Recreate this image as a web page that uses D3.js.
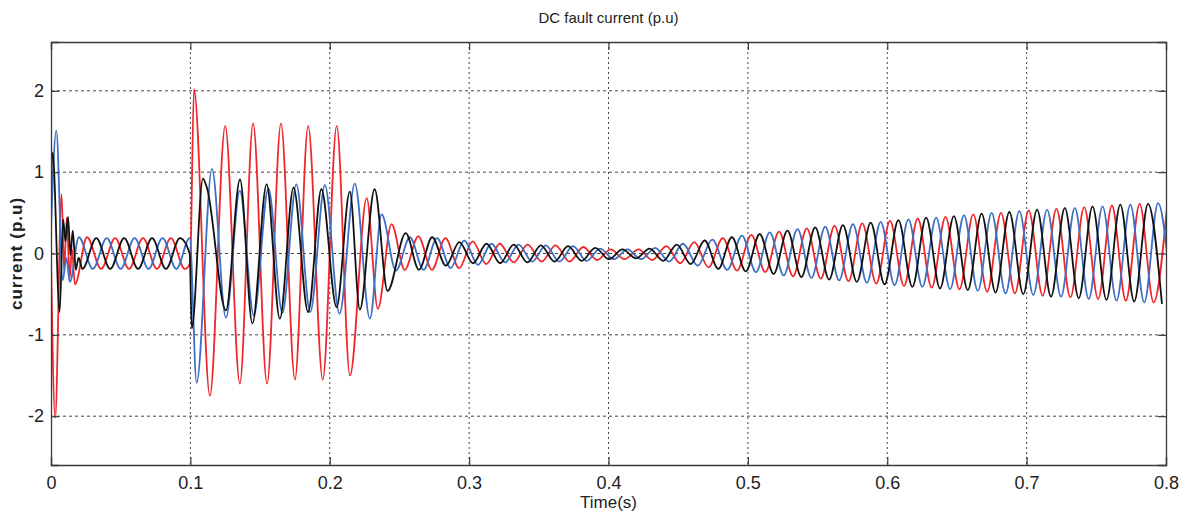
<!DOCTYPE html>
<html>
<head>
<meta charset="utf-8">
<script src="https://d3js.org/d3.v7.min.js"></script>
<style>
  html, body { margin: 0; padding: 0; background: #fff; }
  svg { display: block; }
</style>
</head>
<body>
<div id="chart"></div>
<script>
// Phase currents (p.u) as [time (s), value] at each turning point
const redPhase = [
  [0, -0.05], [0.003, -2.02], [0.0076, 0.73], [0.0094, -0.21], [0.0113, 0.44], [0.0134, -0.3],
  [0.015, 0.05], [0.0172, -0.38], [0.0258, 0.2],
  [0.036, -0.19], [0.046, 0.19], [0.056, -0.19], [0.066, 0.19], [0.076, -0.19], [0.086, 0.19],
  [0.096, -0.19], [0.0998, -0.12],
  [0.1026, 2.02], [0.114, -1.75], [0.125, 1.57], [0.1355, -1.6], [0.145, 1.6], [0.155, -1.6],
  [0.165, 1.6], [0.175, -1.55], [0.1845, 1.57], [0.195, -1.55], [0.205, 1.57], [0.2145, -1.5],
  [0.2265, 0.68], [0.2345, -0.68], [0.2443, 0.36],
  [0.2538, -0.2], [0.2635, 0.21], [0.2733, -0.2], [0.283, 0.19], [0.2928, -0.18], [0.3025, 0.15],
  [0.3123, -0.13], [0.322, 0.12], [0.332, -0.11], [0.342, 0.11], [0.352, -0.1], [0.362, 0.1],
  [0.372, -0.1], [0.382, 0.08], [0.3918, -0.08], [0.4015, 0.05], [0.4115, -0.07], [0.4215, 0.05],
  [0.4315, -0.08], [0.4415, 0.09], [0.4515, -0.12], [0.4615, 0.14], [0.4718, -0.17], [0.482, 0.19],
  [0.4922, -0.21],
  [0.5025, 0.23], [0.5125, -0.23], [0.5224, 0.27], [0.5324, -0.28], [0.5423, 0.31], [0.5523, -0.31],
  [0.5622, 0.34], [0.5722, -0.34], [0.5821, 0.37], [0.5921, -0.37], [0.602, 0.4], [0.612, -0.4],
  [0.6219, 0.43], [0.6319, -0.42], [0.6418, 0.45], [0.6518, -0.44], [0.6617, 0.48], [0.6717, -0.47],
  [0.6816, 0.5], [0.6916, -0.49], [0.7015, 0.53], [0.7115, -0.52], [0.7214, 0.55], [0.7314, -0.54],
  [0.7413, 0.57], [0.7513, -0.56], [0.7612, 0.59], [0.7712, -0.58], [0.7811, 0.61], [0.7911, -0.6],
  [0.801, 0.62]
];

const bluePhase = [
  [0, 0.3], [0.0038, 1.51], [0.0085, -0.33], [0.011, -0.05], [0.0135, -0.35], [0.02, 0.2],
  [0.03, -0.19], [0.04, 0.19], [0.05, -0.19], [0.06, 0.19], [0.07, -0.19], [0.08, 0.19],
  [0.09, -0.19], [0.0995, 0.19],
  [0.1045, -1.59], [0.1155, 1.04], [0.1255, -0.79], [0.1355, 0.77], [0.1455, -0.76], [0.156, 0.8],
  [0.166, -0.73], [0.176, 0.85], [0.186, -0.72], [0.1965, 0.84], [0.207, -0.74], [0.218, 0.86],
  [0.2288, -0.8], [0.2372, 0.48],
  [0.2475, -0.21], [0.2575, 0.2], [0.2673, -0.2], [0.277, 0.19], [0.2868, -0.18], [0.2965, 0.16],
  [0.3063, -0.14], [0.316, 0.12], [0.3258, -0.11], [0.3355, 0.11], [0.3453, -0.1], [0.355, 0.1],
  [0.3648, -0.1], [0.3745, 0.09], [0.3843, -0.09], [0.394, 0.06], [0.4038, -0.07], [0.4135, 0.05],
  [0.4235, -0.07], [0.4335, 0.07], [0.4435, -0.1], [0.4535, 0.12], [0.464, -0.15], [0.4745, 0.17],
  [0.4852, -0.2], [0.4958, 0.22],
  [0.5058, -0.23], [0.5157, 0.26], [0.5257, -0.27], [0.5356, 0.3], [0.5456, -0.3], [0.5555, 0.33],
  [0.5655, -0.33], [0.5754, 0.36], [0.5854, -0.36], [0.5953, 0.39], [0.6053, -0.39], [0.6152, 0.42],
  [0.6252, -0.41], [0.6351, 0.44], [0.6451, -0.44], [0.655, 0.47], [0.665, -0.46], [0.6749, 0.5],
  [0.6849, -0.49], [0.6948, 0.52], [0.7048, -0.51], [0.7147, 0.54], [0.7247, -0.53], [0.7346, 0.56],
  [0.7446, -0.56], [0.7545, 0.58], [0.7645, -0.58], [0.7744, 0.6], [0.7844, -0.6], [0.7943, 0.62],
  [0.8043, -0.62]
];

const blackPhase = [
  [0, 0.9], [0.0012, 1.24], [0.0062, -0.72], [0.0087, 0.42], [0.0104, 0.15], [0.0122, 0.45],
  [0.014, -0.02], [0.0156, 0.28], [0.0178, -0.2], [0.0198, -0.05], [0.0225, -0.19],
  [0.0325, 0.19], [0.0425, -0.19], [0.0525, 0.19], [0.0625, -0.19], [0.0725, 0.19], [0.0825, -0.19],
  [0.0925, 0.19], [0.0995, 0.0],
  [0.101, -0.92], [0.109, 0.92], [0.112, 0.8], [0.1255, -0.7], [0.1356, 0.91], [0.1445, -0.86],
  [0.1547, 0.85], [0.1642, -0.8], [0.174, 0.81], [0.1845, -0.72], [0.194, 0.79], [0.2049, -0.66],
  [0.2144, 0.76], [0.2216, -0.69], [0.2322, 0.79], [0.2415, -0.46],
  [0.2545, 0.25], [0.264, -0.2], [0.2735, 0.2], [0.2833, -0.15], [0.293, 0.14], [0.3028, -0.12],
  [0.3125, 0.12], [0.3223, -0.12], [0.332, 0.11], [0.3418, -0.11], [0.3515, 0.1], [0.3613, -0.1],
  [0.371, 0.09], [0.3808, -0.09], [0.3905, 0.07], [0.4003, -0.07], [0.41, 0.05], [0.4198, -0.06],
  [0.4295, 0.06], [0.4393, -0.09], [0.449, 0.11], [0.459, -0.13], [0.469, 0.16], [0.4788, -0.19],
  [0.4885, 0.2], [0.4985, -0.22],
  [0.5085, 0.24], [0.5185, -0.25], [0.5284, 0.28], [0.5384, -0.29], [0.5483, 0.32], [0.5583, -0.32],
  [0.5682, 0.35], [0.5782, -0.35], [0.5881, 0.38], [0.5981, -0.38], [0.608, 0.41], [0.618, -0.41],
  [0.6279, 0.44], [0.6379, -0.43], [0.6478, 0.46], [0.6578, -0.45], [0.6677, 0.49], [0.6777, -0.48],
  [0.6876, 0.51], [0.6976, -0.5], [0.7075, 0.54], [0.7175, -0.53], [0.7274, 0.56], [0.7374, -0.55],
  [0.7473, 0.58], [0.7573, -0.57], [0.7672, 0.6], [0.7772, -0.59], [0.7871, 0.61], [0.7971, -0.62]
];

const xTicks = [0, 0.1, 0.2, 0.3, 0.4, 0.5, 0.6, 0.7, 0.8];
const yTicks = [-2, -1, 0, 1, 2];

(function () {
  'use strict';

  const COLORS = {
    red: '#f0262a',
    blue: '#3d6fc4',
    black: '#111111',
    axis: '#3a3a3a',
    grid: '#444444',
    text: '#222222',
  };

  const W = 1187, H = 518;
  const margin = { top: 42, right: 21, bottom: 53, left: 51 };
  const innerW = W - margin.left - margin.right;
  const innerH = H - margin.top - margin.bottom;

  const svg = d3.select('#chart').append('svg')
    .attr('width', W).attr('height', H)
    .style('font-family', 'Arial, "Liberation Sans", sans-serif');

  const x = d3.scaleLinear().domain([0, 0.8]).range([0, innerW]);
  const y = d3.scaleLinear().domain([-2.6, 2.6]).range([innerH, 0]);

  const g = svg.append('g')
    .attr('transform', `translate(${margin.left},${margin.top})`);

  svg.append('defs').append('clipPath').attr('id', 'plot-clip')
    .append('rect').attr('x', 0).attr('y', 0).attr('width', innerW).attr('height', innerH);

  // Dotted grid
  g.append('g')
    .selectAll('line')
    .data(xTicks.slice(1, -1))
    .join('line')
    .attr('x1', d => x(d)).attr('x2', d => x(d))
    .attr('y1', 0).attr('y2', innerH)
    .attr('stroke', COLORS.grid)
    .attr('stroke-width', 1)
    .attr('stroke-dasharray', '2,3');

  g.append('g')
    .selectAll('line')
    .data(yTicks)
    .join('line')
    .attr('x1', 0).attr('x2', innerW)
    .attr('y1', d => y(d)).attr('y2', d => y(d))
    .attr('stroke', COLORS.grid)
    .attr('stroke-width', 1)
    .attr('stroke-dasharray', '3,3');

  // Waveforms
  const line = d3.line()
    .x(d => x(d[0]))
    .y(d => y(d[1]))
    .curve(d3.curveMonotoneX);

  const traces = g.append('g').attr('clip-path', 'url(#plot-clip)');
  [[redPhase, COLORS.red], [bluePhase, COLORS.blue], [blackPhase, COLORS.black]].forEach(([data, color]) => {
    traces.append('path')
      .datum(data)
      .attr('fill', 'none')
      .attr('stroke', color)
      .attr('stroke-width', 1.8)
      .attr('stroke-linejoin', 'round')
      .attr('d', line);
  });

  // Axes (MATLAB style: inward ticks on all four sides)
  const tickLen = 8;
  const fmtX = d => d === 0 ? '0' : d3.format('.1f')(d);

  g.append('g')
    .attr('transform', `translate(0,${innerH})`)
    .call(d3.axisBottom(x).tickValues(xTicks).tickSize(-tickLen).tickPadding(11).tickFormat(fmtX))
    .call(a => a.selectAll('text').attr('font-size', '18px').attr('fill', COLORS.text));

  g.append('g')
    .call(d3.axisTop(x).tickValues(xTicks).tickSize(-tickLen).tickFormat(''));

  g.append('g')
    .call(d3.axisLeft(y).tickValues(yTicks).tickSize(-tickLen).tickPadding(7).tickFormat(d => String(d)))
    .call(a => a.selectAll('text').attr('font-size', '18px').attr('fill', COLORS.text));

  g.append('g')
    .attr('transform', `translate(${innerW},0)`)
    .call(d3.axisRight(y).tickValues(yTicks).tickSize(-tickLen).tickFormat(''));

  g.selectAll('.domain').attr('stroke', COLORS.axis).attr('stroke-width', 1.3);
  g.selectAll('.tick line').attr('stroke', COLORS.axis).attr('stroke-width', 1.2);

  // Labels
  svg.append('text')
    .attr('x', margin.left + innerW / 2).attr('y', 23)
    .attr('text-anchor', 'middle')
    .attr('font-size', '15px')
    .attr('fill', COLORS.text)
    .text('DC fault current (p.u)');

  svg.append('text')
    .attr('x', margin.left + innerW / 2).attr('y', 508)
    .attr('text-anchor', 'middle')
    .attr('font-size', '17px')
    .attr('fill', COLORS.text)
    .text('Time(s)');

  svg.append('text')
    .attr('transform', `translate(22,${margin.top + innerH / 2}) rotate(-90)`)
    .attr('text-anchor', 'middle')
    .attr('font-size', '17px')
    .attr('font-weight', 'bold')
    .attr('letter-spacing', '1px')
    .attr('fill', COLORS.text)
    .text('current (p.u)');
})();
</script>
</body>
</html>
